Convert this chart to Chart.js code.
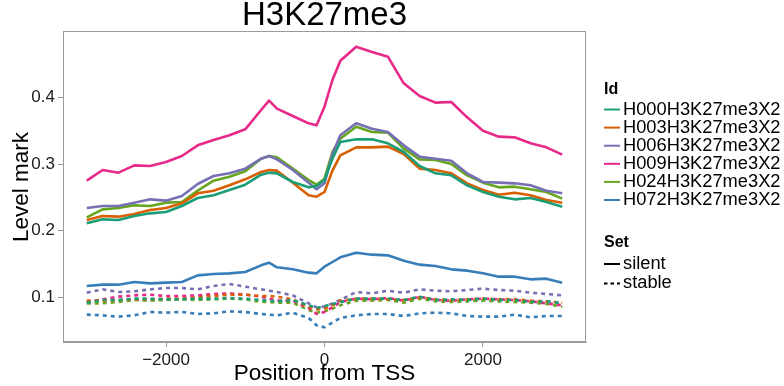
<!DOCTYPE html>
<html>
<head>
<meta charset="utf-8">
<script src="https://cdn.jsdelivr.net/npm/chart.js@4.4.1/dist/chart.umd.min.js"></script>
<style>
  html, body { margin: 0; padding: 0; background: #fff; }
  canvas { display: block; }
</style>
</head>
<body>
<canvas id="chart" width="784" height="386"></canvas>
<script>
// positions relative to the TSS (bp)
const positions = [-3000, -2800, -2600, -2400, -2200, -2000, -1800, -1600, -1400, -1200, -1000, -800, -700, -600, -400, -200, -100, 0, 100, 200, 400, 600, 800, 1000, 1200, 1400, 1600, 1800, 2000, 2200, 2400, 2600, 2800, 3000];

const xTicks = [-2000, 0, 2000];
const yTicks = [0.1, 0.2, 0.3, 0.4];

const ids = ["H000H3K27me3X2", "H003H3K27me3X2", "H006H3K27me3X2", "H009H3K27me3X2", "H024H3K27me3X2", "H072H3K27me3X2"];
const idColors = ["#1b9e77", "#d95f02", "#7570b3", "#e7298a", "#66a61e", "#377eb8"];
const sets = ["silent", "stable"];

// silent set, one array per Id
const h000Silent = [0.211, 0.217, 0.216, 0.222, 0.226, 0.228, 0.237, 0.249, 0.253, 0.261, 0.269, 0.284, 0.287, 0.286, 0.273, 0.265, 0.267, 0.276, 0.308, 0.333, 0.337, 0.337, 0.331, 0.318, 0.297, 0.286, 0.283, 0.268, 0.258, 0.251, 0.247, 0.249, 0.243, 0.236];
const h003Silent = [0.216, 0.222, 0.221, 0.225, 0.231, 0.234, 0.241, 0.256, 0.260, 0.268, 0.277, 0.288, 0.291, 0.290, 0.272, 0.253, 0.251, 0.258, 0.290, 0.313, 0.325, 0.325, 0.326, 0.315, 0.293, 0.291, 0.286, 0.271, 0.261, 0.254, 0.257, 0.253, 0.246, 0.242];
const h006Silent = [0.234, 0.237, 0.237, 0.242, 0.247, 0.245, 0.252, 0.270, 0.282, 0.286, 0.293, 0.308, 0.312, 0.307, 0.291, 0.272, 0.262, 0.271, 0.315, 0.343, 0.361, 0.353, 0.348, 0.328, 0.311, 0.308, 0.305, 0.286, 0.273, 0.272, 0.271, 0.268, 0.260, 0.256];
const h009Silent = [0.275, 0.291, 0.287, 0.298, 0.297, 0.303, 0.312, 0.328, 0.336, 0.343, 0.352, 0.381, 0.395, 0.383, 0.372, 0.361, 0.358, 0.386, 0.426, 0.455, 0.476, 0.468, 0.461, 0.421, 0.402, 0.392, 0.393, 0.370, 0.350, 0.341, 0.340, 0.331, 0.325, 0.314];
const h024Silent = [0.220, 0.232, 0.234, 0.238, 0.237, 0.242, 0.243, 0.260, 0.275, 0.281, 0.289, 0.308, 0.312, 0.310, 0.293, 0.276, 0.269, 0.278, 0.318, 0.338, 0.356, 0.348, 0.347, 0.323, 0.307, 0.306, 0.300, 0.283, 0.272, 0.265, 0.266, 0.262, 0.258, 0.248];
const h072Silent = [0.117, 0.119, 0.119, 0.123, 0.121, 0.122, 0.123, 0.133, 0.135, 0.136, 0.138, 0.148, 0.152, 0.145, 0.142, 0.137, 0.136, 0.146, 0.153, 0.160, 0.167, 0.164, 0.163, 0.155, 0.149, 0.147, 0.142, 0.140, 0.136, 0.131, 0.131, 0.127, 0.128, 0.122];

// stable set
const h000Stable = [0.092, 0.096, 0.096, 0.098, 0.098, 0.097, 0.097, 0.098, 0.098, 0.099, 0.098, 0.096, 0.095, 0.094, 0.096, 0.088, 0.084, 0.087, 0.090, 0.093, 0.098, 0.098, 0.098, 0.096, 0.101, 0.096, 0.097, 0.096, 0.098, 0.096, 0.096, 0.093, 0.094, 0.091];
const h003Stable = [0.095, 0.095, 0.096, 0.097, 0.097, 0.098, 0.098, 0.100, 0.102, 0.104, 0.104, 0.102, 0.102, 0.101, 0.097, 0.086, 0.082, 0.083, 0.088, 0.095, 0.098, 0.098, 0.097, 0.096, 0.100, 0.097, 0.096, 0.097, 0.098, 0.097, 0.097, 0.095, 0.094, 0.092];
const h006Stable = [0.107, 0.112, 0.108, 0.109, 0.112, 0.114, 0.114, 0.112, 0.117, 0.120, 0.116, 0.112, 0.110, 0.108, 0.103, 0.091, 0.085, 0.086, 0.091, 0.096, 0.108, 0.106, 0.110, 0.107, 0.112, 0.110, 0.109, 0.111, 0.113, 0.111, 0.110, 0.107, 0.105, 0.103];
const h009Stable = [0.093, 0.097, 0.101, 0.103, 0.104, 0.102, 0.102, 0.103, 0.105, 0.106, 0.104, 0.101, 0.098, 0.095, 0.095, 0.084, 0.075, 0.078, 0.085, 0.093, 0.098, 0.097, 0.099, 0.095, 0.101, 0.096, 0.095, 0.097, 0.098, 0.097, 0.096, 0.094, 0.091, 0.088];
const h024Stable = [0.091, 0.091, 0.093, 0.096, 0.095, 0.096, 0.097, 0.096, 0.097, 0.098, 0.097, 0.093, 0.093, 0.092, 0.092, 0.081, 0.077, 0.079, 0.083, 0.088, 0.095, 0.095, 0.096, 0.092, 0.098, 0.094, 0.093, 0.094, 0.095, 0.094, 0.093, 0.092, 0.090, 0.086];
const h072Stable = [0.074, 0.073, 0.071, 0.073, 0.078, 0.077, 0.078, 0.075, 0.076, 0.079, 0.078, 0.075, 0.074, 0.073, 0.077, 0.069, 0.058, 0.055, 0.062, 0.069, 0.073, 0.075, 0.075, 0.072, 0.076, 0.077, 0.076, 0.072, 0.071, 0.071, 0.074, 0.070, 0.072, 0.072];

const silentValues = [h000Silent, h003Silent, h006Silent, h009Silent, h024Silent, h072Silent];
const stableValues = [h000Stable, h003Stable, h006Stable, h009Stable, h024Stable, h072Stable];

const FONT = "'Liberation Sans', Arial, Helvetica, sans-serif";
const DASH = [4, 4];
const FRAME = "#9a9a9a";

const toPoints = vals => positions.map((x, i) => ({ x: x, y: vals[i] }));

const datasets = [];
ids.forEach((id, i) => {
    datasets.push({
        label: id + " silent",
        data: toPoints(silentValues[i]),
        borderColor: idColors[i],
        borderWidth: 2.6
    });
    datasets.push({
        label: id + " stable",
        data: toPoints(stableValues[i]),
        borderColor: idColors[i],
        borderWidth: 2.6,
        borderDash: DASH
    });
});

// panel frame, titles and the two-part legend
const decorations = {
    id: "decorations",
    afterDraw(chart) {
        const ctx = chart.ctx;
        const a = chart.chartArea;
        ctx.save();

        ctx.strokeStyle = FRAME;
        ctx.lineWidth = 1;
        ctx.strokeRect(Math.round(a.left) + 0.5, Math.round(a.top) - 0.5, Math.round(a.right - a.left) - 1, Math.round(a.bottom - a.top));

        const cx = (a.left + a.right) / 2;
        ctx.fillStyle = "#000";
        ctx.textAlign = "center";
        ctx.textBaseline = "middle";
        ctx.font = "33px " + FONT;
        ctx.fillText("H3K27me3", cx, 16);

        ctx.font = "22.5px " + FONT;
        ctx.fillText("Position from TSS", cx, 374);

        ctx.save();
        ctx.translate(22, (a.top + a.bottom) / 2);
        ctx.rotate(-Math.PI / 2);
        ctx.fillText("Level mark", 0, 0);
        ctx.restore();

        // legend: Id
        const keyX0 = 604, keyX1 = 620, textX = 623;
        ctx.textAlign = "left";
        ctx.font = "bold 16px " + FONT;
        ctx.fillText("Id", keyX0, 90);
        ctx.font = "18.3px " + FONT;
        ids.forEach((id, i) => {
            const y = 109.5 + i * 18.1;
            ctx.strokeStyle = idColors[i];
            ctx.lineWidth = 2;
            ctx.beginPath();
            ctx.moveTo(keyX0, y);
            ctx.lineTo(keyX1, y);
            ctx.stroke();
            ctx.fillStyle = "#000";
            ctx.fillText(id, textX, y);
        });

        // legend: Set
        ctx.font = "bold 16px " + FONT;
        ctx.fillText("Set", keyX0, 243);
        ctx.font = "18.3px " + FONT;
        sets.forEach((s, i) => {
            const y = 264 + i * 19.4;
            ctx.strokeStyle = "#000";
            ctx.lineWidth = 2;
            ctx.setLineDash(i === 0 ? [] : [3.5, 3]);
            ctx.beginPath();
            ctx.moveTo(keyX0, y);
            ctx.lineTo(keyX1, y);
            ctx.stroke();
            ctx.setLineDash([]);
            ctx.fillText(s, textX, y);
        });

        ctx.restore();
    }
};

const tickFont = { family: FONT, size: 17 };

new Chart("chart", {
    type: "line",
    data: { datasets: datasets },
    options: {
        responsive: false,
        animation: false,
        layout: { padding: { top: 32, right: 198, left: 0, bottom: 0 } },
        elements: {
            point: { radius: 0 },
            line: { tension: 0, borderCapStyle: "butt", borderJoinStyle: "round" }
        },
        plugins: {
            legend: { display: false },
            tooltip: { enabled: false },
            title: { display: false }
        },
        scales: {
            x: {
                type: "linear",
                min: -3300,
                max: 3300,
                afterBuildTicks: scale => { scale.ticks = xTicks.map(v => ({ value: v })); },
                afterFit: scale => { scale.height = 44; },
                grid: { drawOnChartArea: false, drawTicks: true, tickLength: 5, color: FRAME },
                border: { color: FRAME },
                ticks: {
                    font: tickFont,
                    color: "#1a1a1a",
                    padding: 3,
                    maxRotation: 0,
                    callback: v => (v < 0 ? "\u2212" + Math.abs(v) : String(v))
                }
            },
            y: {
                type: "linear",
                min: 0.033,
                max: 0.498,
                afterBuildTicks: scale => { scale.ticks = yTicks.map(v => ({ value: v })); },
                afterFit: scale => { scale.width = 63; },
                grid: { drawOnChartArea: false, drawTicks: true, tickLength: 5, color: FRAME },
                border: { color: FRAME },
                ticks: {
                    font: tickFont,
                    color: "#1a1a1a",
                    padding: 3,
                    callback: v => v.toFixed(1)
                }
            }
        }
    },
    plugins: [decorations]
});
</script>
</body>
</html>
